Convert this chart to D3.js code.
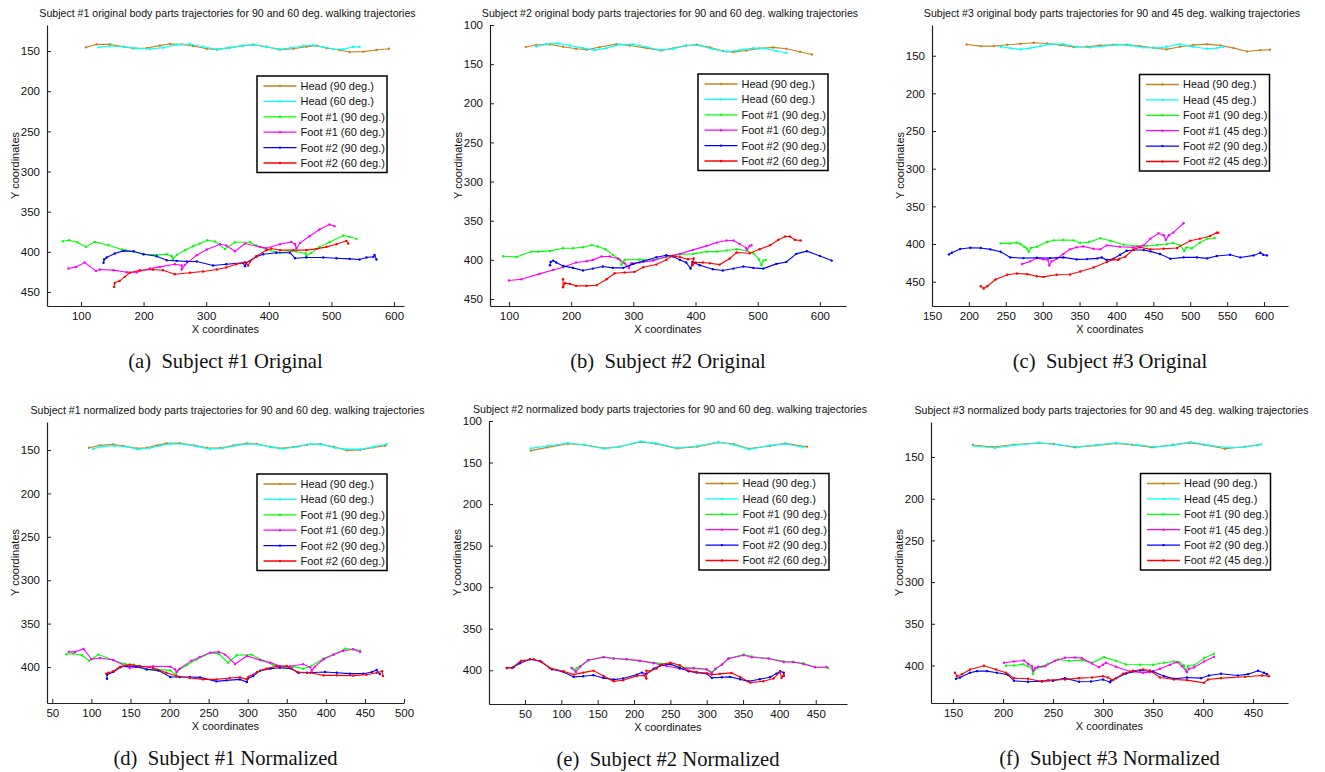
<!DOCTYPE html>
<html>
<head>
<meta charset="utf-8">
<script src="https://cdn.jsdelivr.net/npm/d3@7"></script>
<style>
  body { margin: 0; background: #fff; }
  text { font-family: "Liberation Sans", Arial, sans-serif; }
  .caption { font-family: "Liberation Serif", "Times New Roman", serif; }
</style>
</head>
<body>
<svg id="fig" width="1325" height="772"></svg>
<script>
// ---- data: [x, y] image coordinates ----

// (a) Subject #1 original
var aHead90 = [[108,145.4],[125,141.7],[146,141.7],[168,144.6],[184,146.7],[205,146.3],[226,143.3],[242,141.3],[261,141.7],[279,143.8],[301,147.1],[317,148.3],[338,145.8],[359,143.3],[375,142.1],[396,144.6],[418,148.3],[439,147.1],[460,144.6],[476,143.3],[492,146.3],[513,148.8],[529,151.3],[551,150.8],[572,148.8],[592,147.1]];
var aHead60 = [[128,145.4],[146,143.8],[168,144.6],[189,146.7],[210,147.5],[231,145.8],[253,142.1],[274,141.3],[295,144.6],[317,147.9],[338,145.8],[359,143.3],[375,142.1],[396,144.6],[418,147.9],[434,146.3],[455,143.8],[471,142.9],[487,145],[503,147.5],[519,147.9],[535,144.6],[545,145]];
var aFoot1_90 = [[71,386.7],[81,385.5],[94,388],[108,393.8],[122,387.6],[144,391.7],[165,397],[172,397.9],[200,402.9],[221,403.7],[237,402.9],[245,405.4],[247,408.7],[253,403.7],[266,397.9],[279,393],[290,389.6],[302,385.5],[314,387.1],[330,396.3],[346,388],[370,388],[380,392.1],[396,397.1],[418,401.2],[434,399.6],[444,399.6],[459,402],[460,405.4],[468,401.2],[481,393.8],[497,388],[519,379.7],[529,381.3],[540,383.8]];
var aFoot1_60 = [[80,420.7],[92,418.7],[106,413.3],[124,423.7],[130,422],[152,422.8],[173,425.3],[189,425.3],[210,420.7],[226,418.7],[250,415.4],[261,417],[261,422],[266,416.2],[285,404.1],[301,397.1],[322,390.5],[332,392.1],[346,399.2],[362,389.6],[386,393.8],[396,395.4],[418,390.5],[436,387.6],[442,390.5],[444,395.9],[450,388.8],[465,380.5],[481,372.2],[497,366],[505,368]];
var aFoot2_90 = [[136,413.7],[137,409.5],[141,407.1],[154,402.1],[168,398.8],[184,399.2],[200,402.9],[221,405.4],[237,410.4],[253,411.2],[269,412],[285,412],[311,417],[332,415.4],[359,413.7],[362,417.8],[364,413.7],[380,406.2],[391,402.9],[412,401.2],[434,401.2],[442,407.9],[460,407.1],[487,407.1],[508,407.9],[529,408.7],[545,409.5],[556,407.1],[567,406.2],[569,403.7],[572,409.5]];
var aFoot2_60 = [[153,443.6],[154,438.6],[162,436.1],[170,431.1],[178,426.1],[194,422.8],[215,422],[231,422.8],[250,427.8],[274,426.1],[295,424.5],[317,422],[332,419.5],[348,415.4],[362,412.9],[367,417],[370,412],[380,405.4],[396,397.9],[404,395.9],[418,397.9],[439,397.9],[460,397.9],[476,396.3],[492,393.8],[508,390.5],[524,386.3],[527,389.6]];

// (b) Subject #2 original
var bHead90 = [[127,128.2],[144,125.6],[166,124.8],[187,127.8],[208,130.3],[225,131.6],[246,128.2],[273,124.4],[294,126.1],[321,129.5],[345,132.5],[364,129.9],[385,126.1],[402,125.2],[423,128.6],[444,133.3],[461,134.6],[482,132.5],[503,129.9],[525,128.6],[546,130.3],[568,134.2],[587,137.6]];
var bHead60 = [[144,127.4],[160,124.4],[179,123.5],[198,126.1],[219,129.5],[238,132.1],[257,129.5],[278,124.8],[300,124.8],[321,128.2],[343,132.1],[364,130.3],[385,126.1],[407,126.1],[428,130.8],[450,134.2],[471,132.1],[493,129.5],[512,129.9],[530,133.3],[546,135.5]];
var bFoot1_90 = [[91,395.3],[112,396.2],[136,389.4],[147,389.4],[166,388.5],[187,385.1],[203,385.1],[219,383.8],[233,381.3],[243,383],[255,386.4],[267,393.6],[278,399.1],[281,406.4],[286,400],[310,399.6],[332,400],[353,396.6],[375,393.2],[396,392.3],[418,389.4],[434,389.4],[450,388.1],[466,386.4],[482,388.1],[493,391.5],[502,399.1],[506,406.8],[509,400.9],[513,400]];
var bFoot1_60 = [[100,426.4],[120,424.7],[149,417.9],[171,412.8],[187,409.4],[208,403.4],[225,401.7],[235,400],[249,395.7],[262,395.7],[275,398.3],[286,404.3],[293,410.2],[297,404.3],[310,403.4],[332,400.9],[353,395.7],[375,392.3],[396,387.2],[418,382.1],[434,377.9],[450,375.3],[461,375.3],[471,379.6],[481,384.7],[483,387.2],[487,382.1],[490,381.3]];
var bFoot2_90 = [[166,406.8],[167,402.6],[171,400.9],[176,403.4],[187,407.7],[203,410.2],[219,413.6],[235,411.1],[251,408.5],[267,410.2],[284,410.2],[300,405.1],[316,401.7],[337,396.6],[353,394],[364,395.7],[375,400],[385,403.4],[392,411.1],[395,402.6],[407,406.8],[428,411.9],[444,413.6],[461,411.1],[477,408.5],[493,410.2],[509,411.1],[530,405.1],[546,402.6],[562,392.3],[579,388.9],[600,394.9],[619,400.9]];
var bFoot2_60 = [[187,424.7],[187,434.9],[190,429.8],[198,430.6],[208,433.2],[225,433.2],[241,432.3],[257,424.7],[270,417],[286,416.2],[302,415.3],[316,409.4],[337,406],[353,400],[364,394.9],[375,396.6],[388,399.1],[397,398.3],[395,406.8],[400,403.4],[412,403.4],[423,404.3],[439,406],[455,398.3],[466,390.6],[487,391.5],[503,386.4],[520,381.3],[533,374.5],[544,370.2],[552,370.2],[560,374.5],[569,375.3]];

// (c) Subject #3 original
var cHead90 = [[197,135],[216,137.2],[234,137.2],[252,135.5],[270,134.1],[288,132.8],[306,133.7],[324,135.9],[342,138.5],[360,138.1],[378,136.3],[396,135.5],[414,135.5],[432,137.2],[450,139.4],[468,141.6],[486,138.1],[504,135.9],[523,134.6],[541,136.3],[559,139.9],[577,144.3],[595,142.5],[608,142.1]];
var cHead45 = [[243,138.1],[256,139.9],[270,141.6],[283,139.9],[297,137.2],[310,134.6],[328,134.6],[346,138.1],[364,139],[383,137.2],[401,135.5],[419,136.3],[437,139],[455,139.9],[468,138.1],[486,134.6],[504,138.1],[523,140.7],[536,139.9],[545,138.1]];
var cFoot1_90 = [[243,399.1],[256,399.1],[265,398.2],[270,400],[275,403.6],[279,406.2],[281,410.2],[284,405.3],[292,403.6],[306,397.3],[315,395.1],[328,394.7],[342,395.1],[351,398.7],[362,397.8],[378,392.4],[392,395.6],[410,400.9],[428,402.7],[441,402.7],[455,401.3],[468,400],[477,398.7],[486,401.8],[492,408.9],[495,404.4],[502,405.8],[513,398.2],[523,392.9],[533,392]];
var cFoot1_45 = [[272,426.7],[283,423.1],[292,418.7],[301,420.4],[307,421.3],[309,428.4],[312,423.1],[319,419.6],[328,413.3],[337,407.1],[346,404.4],[355,403.1],[369,406.2],[378,407.1],[387,401.8],[405,403.6],[423,404.4],[437,401.8],[446,392.9],[457,385.8],[464,388.4],[467,394.7],[471,388.4],[477,384.9],[491,372.4]];
var cFoot2_90 = [[173,413.8],[177,411.6],[188,406.7],[202,404.9],[216,405.3],[229,407.1],[243,410.2],[256,417.8],[274,418.7],[292,418.2],[310,418.7],[328,417.8],[346,420.4],[360,420],[374,419.1],[380,417.8],[387,421.3],[396,419.6],[405,414.2],[414,408.9],[423,408],[437,408],[446,409.8],[459,413.3],[473,419.6],[491,417.8],[509,417.8],[523,419.1],[536,416],[554,414.2],[568,417.8],[586,415.1],[595,411.6],[599,414.2],[604,415.1]];
var cFoot2_45 = [[216,456],[220,459.1],[225,456],[236,447.1],[252,440.9],[265,439.1],[279,440],[292,442.7],[301,443.6],[319,440.9],[337,440.4],[351,436.4],[369,431.1],[387,424],[396,420.4],[402,421.3],[404,419.6],[412,416.9],[423,407.1],[432,404.4],[446,407.1],[464,406.2],[482,405.3],[500,395.6],[513,392.9],[527,389.3],[536,384.9],[538,384.9]];

// (d) Subject #1 normalized
var dHead90 = [[97,147.3],[111,144.6],[128,143.5],[141,145.4],[158,148.1],[171,147.3],[184,144.6],[196,142.3],[213,142],[231,144.6],[248,147.3],[265,147.7],[282,144.6],[299,142.3],[312,143.1],[329,146.2],[341,148.1],[358,146.6],[376,143.9],[393,143.1],[410,146.2],[427,150.4],[444,150],[461,146.9],[476,145]];
var dHead60 = [[102,148.5],[115,145.8],[130,145],[145,146.2],[160,149.2],[175,147.7],[188,145],[201,142.7],[218,143.1],[235,145.8],[252,148.9],[269,147.7],[286,144.6],[301,142.7],[316,143.9],[331,146.9],[346,148.5],[363,146.2],[380,143.1],[395,143.5],[412,147.3],[427,149.2],[444,149.2],[461,146.2],[478,143.1]];
var dFoot1_90 = [[68,385.3],[77,384.6],[88,386.5],[97,392.7],[103,389.6],[109,385.7],[128,392.3],[143,396.5],[154,397.3],[171,403.1],[184,402.7],[201,403.9],[208,408.9],[211,403.9],[222,398.1],[235,391.1],[252,383.8],[263,384.9],[275,395],[286,386.5],[305,385.7],[320,392.7],[333,398.1],[346,400],[358,399.6],[371,401.9],[380,399.6],[397,390.3],[410,385.7],[425,378.8],[435,379.5],[444,381.1]];
var dFoot1_60 = [[71,382.6],[79,382.6],[90,379.2],[100,391.1],[111,389.6],[128,391.9],[149,401.2],[162,400],[179,399.2],[201,399.6],[207,402.7],[209,405.8],[213,401.9],[228,392.7],[239,388.4],[252,383.4],[263,382.6],[271,385.7],[284,396.5],[299,387.3],[316,391.9],[329,395],[341,398.8],[354,399.2],[371,396.9],[380,400.4],[382,404.2],[386,399.6],[397,391.1],[410,385.7],[422,381.5],[435,379.5],[444,382.6]];
var dFoot2_90 = [[120,413.5],[120,408.9],[128,405.8],[137,400.4],[145,398.8],[158,399.6],[171,402.7],[186,404.2],[201,411.6],[213,411.6],[226,411.6],[239,412],[260,416.6],[273,415.4],[290,414.3],[299,417.4],[300,413.5],[307,410.4],[316,404.2],[329,401.9],[341,400.8],[356,401.9],[365,406.6],[376,406.6],[399,405.8],[414,406.6],[431,407.7],[448,407.7],[459,405.8],[465,403.5],[469,408.1]];
var dFoot2_60 = [[119,407.7],[122,406.6],[128,405],[137,399.6],[149,397.3],[162,398.8],[179,401.2],[196,406.6],[209,410.4],[226,412.7],[243,414.3],[260,414.3],[277,412.7],[290,412],[299,414.3],[301,411.2],[312,405.8],[324,401.9],[337,399.2],[350,398.8],[363,405.8],[380,406.6],[397,409.7],[414,409.7],[435,410],[452,408.9],[465,406.6],[472,405],[473,410.4]];

// (e) Subject #2 normalized
var eHead90 = [[58,135.7],[81,131.7],[109,127.3],[131,128.5],[159,132.9],[180,130.9],[209,125.3],[230,127.3],[259,132.9],[287,130.9],[316,125.7],[337,127.7],[358,133.3],[387,130.1],[408,126.9],[438,130.9]];
var eHead60 = [[58,132.9],[81,130.1],[109,126.5],[131,128.5],[159,133.3],[180,130.9],[209,124.5],[230,126.9],[259,132.5],[287,130.1],[316,125.3],[337,128.5],[358,134.1],[387,129.3],[408,127.3],[433,131.7]];
var eFoot1_90 = [[116,398],[119,400.4],[121,397.2],[126,394.8],[137,388],[158,383.9],[172,385.9],[190,386.7],[208,389.2],[227,390.8],[245,392.4],[263,395.6],[282,398],[300,398.8],[307,402],[312,398.8],[321,393.2],[330,385.9],[351,381.1],[362,383.5],[385,385.9],[406,389.2],[419,390],[433,391.6],[449,396],[467,397.2]];
var eFoot1_60 = [[114,397.2],[120,402],[126,395.6],[137,388],[158,384.3],[172,385.9],[190,386.7],[208,388.4],[227,391.6],[245,394.8],[263,398],[282,397.2],[300,398.8],[307,403.6],[312,398],[321,393.2],[330,385.9],[351,381.9],[362,384.3],[385,385.9],[406,390],[419,390],[433,392.4],[449,396.4],[465,396]];
var eFoot2_90 = [[25,397.2],[34,396.4],[43,391.6],[57,386.7],[71,389.2],[87,398.8],[103,402],[117,408],[130,407.2],[144,406],[158,409.2],[172,411.2],[185,410],[204,405.2],[211,402.8],[217,404.4],[227,398],[236,394.4],[250,392.4],[263,397.2],[275,401.2],[286,402.8],[300,404],[307,409.2],[321,408.4],[332,408],[346,410.8],[357,413.3],[373,410.8],[387,408.4],[396,404],[401,401.2],[406,402.8],[406,406.8]];
var eFoot2_60 = [[25,397.2],[32,397.2],[45,388.4],[62,386.7],[73,390],[84,397.2],[103,401.2],[117,405.2],[130,402.8],[144,400.4],[158,406.8],[172,413.3],[185,412],[204,406.8],[214,406],[217,410],[217,400.4],[222,401.2],[231,398],[238,393.2],[250,390.8],[263,394],[275,400.4],[286,402],[300,403.6],[307,405.2],[318,404.4],[334,403.2],[346,408],[360,414.9],[378,413.3],[392,410],[401,402],[403,409.2],[406,406]];

// (f) Subject #3 normalized
var fHead90 = [[170,135.6],[189,138],[210,135.2],[236,132.8],[251,134.4],[272,138.4],[293,136],[313,133.6],[329,135.2],[349,138.4],[370,135.2],[386,132.8],[401,135.2],[422,140],[442,137.6],[455,135.6]];
var fHead45 = [[171,136.8],[192,139.2],[210,136],[236,133.2],[256,135.2],[274,138],[295,135.2],[313,133.2],[334,135.2],[352,138],[370,136],[388,132],[406,136],[427,138.8],[442,138],[458,134.8]];
var fFoot1_90 = [[203,400.4],[211,400],[220,398.4],[225,400.8],[229,404],[230,410],[232,404.8],[239,401.6],[245,398],[255,392.8],[266,394.4],[279,393.6],[289,396.8],[301,390],[313,394.4],[323,398.8],[337,399.2],[350,399.2],[361,396.8],[371,395.2],[376,396],[381,400],[383,406.4],[385,400.8],[391,400],[401,391.2],[411,386]];
var fFoot1_45 = [[201,396.8],[211,395.2],[221,394],[225,398],[229,400.8],[230,406],[232,403.2],[235,401.6],[242,400.8],[252,394.4],[262,390.8],[272,390.4],[279,391.2],[289,397.6],[296,402],[300,399.2],[303,396.8],[313,401.6],[327,407.2],[340,408.8],[347,408],[357,404],[367,399.2],[374,396],[379,400.8],[384,408],[386,404],[391,402.4],[401,395.2],[411,389.6]];
var fFoot2_90 = [[153,416],[157,414.4],[167,408.8],[174,406.8],[184,406.8],[194,408.8],[205,411.2],[211,418.4],[225,419.6],[239,418.8],[250,418.4],[262,415.2],[276,419.6],[288,419.2],[300,416.8],[307,420],[308,418],[313,415.2],[323,409.6],[337,406],[350,407.2],[361,412.8],[371,416],[384,414.4],[398,415.2],[406,412],[418,410],[435,412],[445,410.4],[455,406.4],[461,408.8],[464,410.4]];
var fFoot2_45 = [[152,408.8],[154,412.8],[159,410.4],[167,404.8],[181,400.4],[193,404.8],[203,408.8],[211,415.2],[225,416],[239,419.2],[245,417.6],[262,416.8],[276,415.2],[289,414.4],[300,412.8],[305,414.4],[310,417.6],[313,415.2],[320,410],[330,406.4],[340,404.8],[347,406],[357,414.4],[371,416.8],[384,417.6],[401,420.8],[405,416.8],[418,415.2],[442,413.6],[459,412],[466,412.8]];

// tick values
var aXTicks = [100, 200, 300, 400, 500, 600];
var aYTicks = [150, 200, 250, 300, 350, 400, 450];
var bXTicks = [100, 200, 300, 400, 500, 600];
var bYTicks = [100, 150, 200, 250, 300, 350, 400, 450];
var cXTicks = [150, 200, 250, 300, 350, 400, 450, 500, 550, 600];
var cYTicks = [150, 200, 250, 300, 350, 400, 450];
var dXTicks = [50, 100, 150, 200, 250, 300, 350, 400, 450, 500];
var dYTicks = [150, 200, 250, 300, 350, 400];
var eXTicks = [50, 100, 150, 200, 250, 300, 350, 400, 450];
var eYTicks = [100, 150, 200, 250, 300, 350, 400];
var fXTicks = [150, 200, 250, 300, 350, 400, 450];
var fYTicks = [150, 200, 250, 300, 350, 400];

// texts
var legend60 = ["Head (90 deg.)", "Head (60 deg.)", "Foot #1 (90 deg.)", "Foot #1 (60 deg.)", "Foot #2 (90 deg.)", "Foot #2 (60 deg.)"];
var legend45 = ["Head (90 deg.)", "Head (45 deg.)", "Foot #1 (90 deg.)", "Foot #1 (45 deg.)", "Foot #2 (90 deg.)", "Foot #2 (45 deg.)"];
var titles = [
  "Subject #1 original body parts trajectories for 90 and 60 deg. walking trajectories",
  "Subject #2 original body parts trajectories for 90 and 60 deg. walking trajectories",
  "Subject #3 original body parts trajectories for 90 and 45 deg. walking trajectories",
  "Subject #1 normalized body parts trajectories for 90 and 60 deg. walking trajectories",
  "Subject #2 normalized body parts trajectories for 90 and 60 deg. walking trajectories",
  "Subject #3 normalized body parts trajectories for 90 and 45 deg. walking trajectories"
];
var captions = [
  "(a)\u00a0\u00a0Subject #1 Original", "(b)\u00a0\u00a0Subject #2 Original", "(c)\u00a0\u00a0Subject #3 Original",
  "(d)\u00a0\u00a0Subject #1 Normalized", "(e)\u00a0\u00a0Subject #2 Normalized", "(f)\u00a0\u00a0Subject #3 Normalized"
];

var colors = ["#c4841c", "#00ffff", "#00ff00", "#ff00ff", "#0000ff", "#ff0000"];

// panel layout (pixels) and axis ranges
var panels = [
  {left: 47,  right: 404,  top: 25,  bottom: 306, xd: [45.7, 616], yd: [117.6, 467.4], xt: aXTicks, yt: aYTicks, lx: 257,  ly: 76,
   series: [aHead90, aHead60, aFoot1_90, aFoot1_60, aFoot2_90, aFoot2_60], legend: legend60},
  {left: 490, right: 846,  top: 25,  bottom: 306, xd: [69.5, 642],  yd: [100, 458.9],   xt: bXTicks, yt: bYTicks, lx: 698,  ly: 74,
   series: [bHead90, bHead60, bFoot1_90, bFoot1_60, bFoot2_90, bFoot2_60], legend: legend60},
  {left: 932, right: 1288, top: 25,  bottom: 306, xd: [150, 632.5], yd: [109.2, 482.3], xt: cXTicks, yt: cYTicks, lx: 1139.5, ly: 74.5,
   series: [cHead90, cHead45, cFoot1_90, cFoot1_45, cFoot2_90, cFoot2_45], legend: legend45},
  {left: 47,  right: 404,  top: 422, bottom: 703, xd: [43.2, 500],  yd: [117.7, 441.5], xt: dXTicks, yt: dYTicks, lx: 257,  ly: 474,
   series: [dHead90, dHead60, dFoot1_90, dFoot1_60, dFoot2_90, dFoot2_60], legend: legend60},
  {left: 489, right: 847,  top: 421, bottom: 704, xd: [0.5, 493],   yd: [100, 440.6],   xt: eXTicks, yt: eYTicks, lx: 699,  ly: 473.5,
   series: [eHead90, eHead60, eFoot1_90, eFoot1_60, eFoot2_90, eFoot2_60], legend: legend60},
  {left: 931, right: 1288, top: 422, bottom: 703, xd: [128, 485],   yd: [108, 445],     xt: fXTicks, yt: fYTicks, lx: 1140.5, ly: 473.5,
   series: [fHead90, fHead45, fFoot1_90, fFoot1_45, fFoot2_90, fFoot2_45], legend: legend45}
];

var svg = d3.select("#fig");

panels.forEach(function(p, i) {
  var g = svg.append("g");
  var x = d3.scaleLinear().domain(p.xd).range([p.left, p.right]);
  var y = d3.scaleLinear().domain(p.yd).range([p.top, p.bottom]);
  var cx = (p.left + p.right) / 2;
  var cy = (p.top + p.bottom) / 2;

  // axes, ticks pointing inward (matlab style)
  var xAxis = g.append("g")
    .attr("transform", `translate(0,${p.bottom})`)
    .call(d3.axisBottom(x).tickValues(p.xt).tickSizeInner(-4).tickSizeOuter(0).tickPadding(6).tickFormat(d3.format("d")));
  var yAxis = g.append("g")
    .attr("transform", `translate(${p.left},0)`)
    .call(d3.axisLeft(y).tickValues(p.yt).tickSizeInner(-4).tickSizeOuter(0).tickPadding(7).tickFormat(d3.format("d")));
  [xAxis, yAxis].forEach(function(a) {
    a.attr("font-family", "Liberation Sans, Arial, sans-serif").attr("font-size", 11.5);
    a.selectAll("text").attr("fill", "#111");
    a.select(".domain").attr("stroke", "#222").attr("stroke-width", 1.2);
    a.selectAll(".tick line").attr("stroke", "#222");
  });

  // title and labels
  g.append("text")
    .attr("x", cx + 2).attr("y", p.top - 8.5)
    .attr("text-anchor", "middle").attr("font-size", 10.6).attr("fill", "#111")
    .text(titles[i]);
  g.append("text")
    .attr("x", cx).attr("y", p.bottom + 26.5)
    .attr("text-anchor", "middle").attr("font-size", 11).attr("fill", "#111")
    .text("X coordinates");
  g.append("text")
    .attr("transform", `translate(${p.left - 28},${cy}) rotate(-90)`)
    .attr("text-anchor", "middle").attr("font-size", 11).attr("fill", "#111")
    .text("Y coordinates");
  g.append("text")
    .attr("class", "caption")
    .attr("x", cx).attr("y", p.bottom + 62)
    .attr("text-anchor", "middle").attr("font-size", 20.6).attr("fill", "#111")
    .text(captions[i]);

  // trajectories
  var line = d3.line().x(function(d) { return x(d[0]); }).y(function(d) { return y(d[1]); });
  p.series.forEach(function(s, k) {
    g.append("path")
      .datum(s)
      .attr("d", line)
      .attr("fill", "none")
      .attr("stroke", colors[k])
      .attr("stroke-width", 1.1);
    g.selectAll(null)
      .data(s)
      .enter().append("circle")
      .attr("cx", function(d) { return x(d[0]); })
      .attr("cy", function(d) { return y(d[1]); })
      .attr("r", 1.2)
      .attr("fill", colors[k]);
  });

  // legend
  var lg = g.append("g").attr("transform", `translate(${p.lx},${p.ly})`);
  lg.append("rect")
    .attr("width", 130).attr("height", 96.5)
    .attr("fill", "#fff").attr("stroke", "#000").attr("stroke-width", 1.5);
  p.legend.forEach(function(name, k) {
    var ry = 10 + k * 15.4;
    lg.append("line")
      .attr("x1", 6.5).attr("x2", 39.5).attr("y1", ry).attr("y2", ry)
      .attr("stroke", colors[k]).attr("stroke-width", 1.3);
    lg.append("circle").attr("cx", 23).attr("cy", ry).attr("r", 1.2).attr("fill", colors[k]);
    lg.append("text")
      .attr("x", 43.5).attr("y", ry).attr("dy", "0.36em")
      .attr("font-size", 11).attr("fill", "#111")
      .text(name);
  });
});
</script>
</body>
</html>
